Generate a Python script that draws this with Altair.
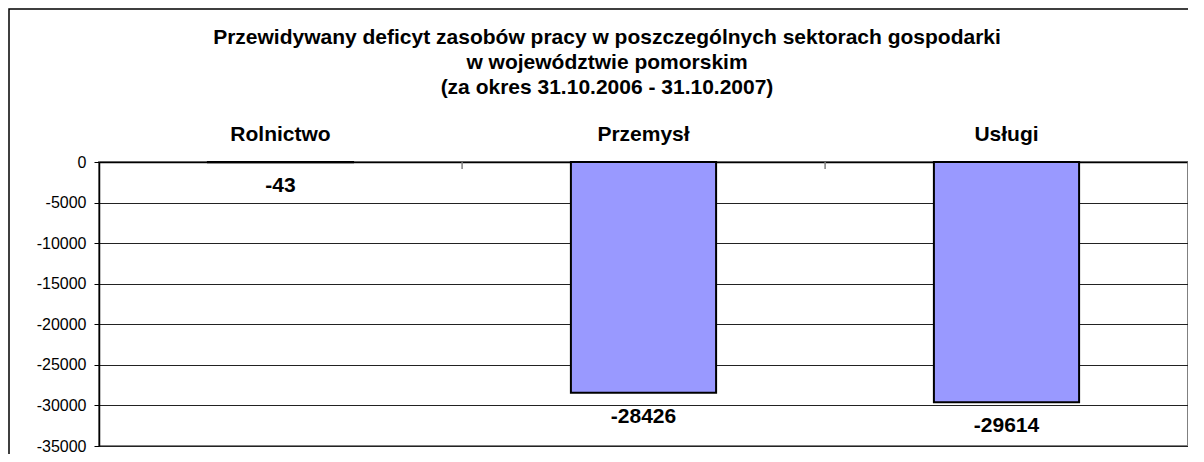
import altair as alt
import pandas as pd

categories = ["Rolnictwo", "Przemysł", "Usługi"]
values = [-43, -28426, -29614]
y_ticks = [0, -5000, -10000, -15000, -20000, -25000, -30000, -35000]
title_lines = [
    "Przewidywany deficyt zasobów pracy w poszczególnych sektorach gospodarki",
    "w województwie pomorskim",
    "(za okres 31.10.2006 - 31.10.2007)",
]

FONT = "Liberation Sans"
df = pd.DataFrame({"sektor": categories, "wartosc": values})
tdf = pd.DataFrame({"line": title_lines, "idx": list(range(len(title_lines)))})

xscale = alt.Scale(paddingInner=0.6, paddingOuter=0.3)
yscale = alt.Scale(domain=[-35000, 0], nice=False)

x_enc = alt.X(
    "sektor:N", sort=categories, scale=xscale,
    axis=alt.Axis(orient="top", title=None, labelAngle=0, labelFont=FONT,
                  labelFontSize=21, labelFontWeight="bold", labelColor="#000",
                  tickSize=0, labelPadding=18, domainColor="#000", domainWidth=1.5),
)
y_enc = alt.Y(
    "wartosc:Q", scale=yscale,
    axis=alt.Axis(values=y_ticks, title=None, labelFont=FONT, labelFontSize=16,
                  labelColor="#000", tickSize=5, tickColor="#000", labelPadding=8,
                  gridColor="#222", gridWidth=1, domainColor="#000", domainWidth=1.5,
                  labelExpr="'' + datum.value"),
)

base = alt.Chart(df)

bars = base.mark_bar(color="#9999FF", stroke="#000", strokeWidth=2).encode(x=x_enc, y=y_enc)

labels = base.transform_calculate(lab="'' + datum.wartosc").mark_text(
    font=FONT, fontSize=21, fontWeight="bold", color="#000", baseline="middle", dy=24
).encode(x=alt.X("sektor:N", sort=categories), y="wartosc:Q", text="lab:N")

ticks = base.mark_rule(color="#808080", strokeWidth=1.5, xOffset=109).encode(
    x=alt.X("sektor:N", sort=categories, bandPosition=1),
    y=alt.value(0), y2=alt.value(7),
)

frame = alt.Chart(alt.Data(values=[{}])).mark_rect(
    fillOpacity=0, stroke="#000", strokeWidth=1.5, clip=False
).encode(x=alt.value(-90), x2=alt.value(1300), y=alt.value(-153), y2=alt.value(700))

title = alt.Chart(tdf).transform_calculate(ty="-124 + datum.idx * 25").mark_text(
    font=FONT, fontSize=21, fontWeight="bold", color="#000", baseline="middle",
    align="center", clip=False
).encode(
    x=alt.value(508),
    y=alt.Y("ty:Q", scale=None),
    text="line:N",
)

chart = alt.layer(frame, bars, labels, ticks, title).properties(
    width=1089, height=284,
    autosize="none",
    padding={"left": 91, "top": 154, "right": 0, "bottom": 8},
).configure_view(stroke="#808080", strokeWidth=2)

chart.save("out.html", embed_options={"renderer": "svg", "actions": False})
